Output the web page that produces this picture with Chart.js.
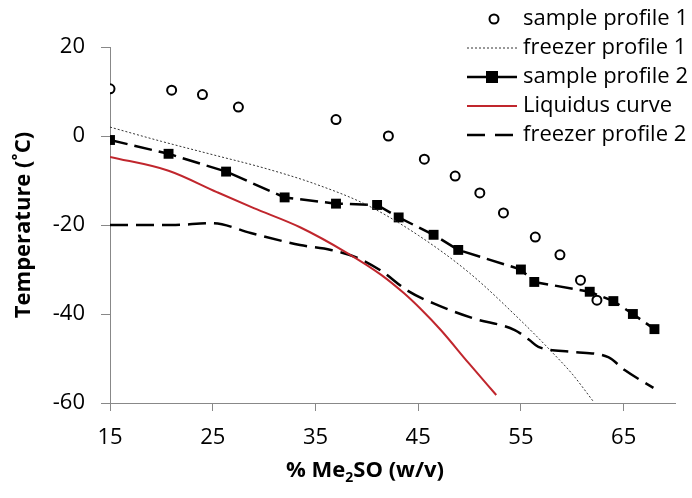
<!DOCTYPE html>
<html>
<head>
<meta charset="utf-8">
<script src="https://cdn.jsdelivr.net/npm/chart.js@4"></script>
<style>
  html, body { margin: 0; padding: 0; background: #fff; }
  #wrap { width: 692px; height: 498px; position: relative; }
</style>
</head>
<body>
<div id="wrap"><canvas id="chart"></canvas></div>
<script>
// values
const sample1X = [15, 21, 24, 27.5, 37, 42.1, 45.6, 48.6, 51, 53.3, 56.4, 58.8, 60.8, 62.4];
const sample1Y = [10.6, 10.3, 9.3, 6.5, 3.7, 0, -5.2, -9, -12.8, -17.3, -22.7, -26.7, -32.4, -36.9];

const freezer1X = [15, 20, 25, 30, 35, 40, 45, 50, 55, 58, 60, 62.1];
const freezer1Y = [2, -1.2, -4.2, -7.2, -10.8, -15.5, -22.3, -30.8, -41.5, -48.5, -53.5, -59.8];

const sample2X = [15, 20.7, 26.3, 32, 37, 41, 43.1, 46.5, 48.9, 55, 56.3, 61.7, 64, 65.9, 68];
const sample2Y = [-0.9, -4, -8, -13.8, -15.2, -15.5, -18.3, -22.2, -25.6, -30, -32.8, -35, -37.1, -40, -43.4];

const liquidusX = [15, 20.7, 25.4, 29, 33.5, 38.1, 41.4, 43.6, 45.3, 47.2, 49.9, 52.6];
const liquidusY = [-4.7, -7.8, -12.6, -16.2, -20.5, -26.3, -31.2, -35.3, -39, -43.6, -51, -58.2];

const freezer2X = [15, 21, 25, 28.7, 33.5, 36.5, 39.1, 41.4, 44, 46.9, 50.4, 54.4, 55.8, 56.7, 60, 63.5, 65.1, 67.9];
const freezer2Y = [-20, -20, -19.6, -21.8, -24.5, -25.6, -27.4, -30.3, -34.8, -38, -41, -43.6, -45.8, -47.4, -48.5, -49.7, -52.6, -56.6];

const xTicks = [15, 25, 35, 45, 55, 65];
const yTicks = [-60, -40, -20, 0, 20];

const FONT = '"Open Sans", sans-serif';

function pts(xs, ys) {
  return xs.map((x, i) => ({ x, y: ys[i] }));
}

// legend drawn inside the plot, top right
const insideLegend = {
  id: 'insideLegend',
  afterDraw(chart) {
    const ctx = chart.ctx;
    const rowTop = 19, rowGap = 29;
    const x0 = 467, x1 = 517, textX = 523;
    ctx.save();
    ctx.font = '22px ' + FONT;
    ctx.textBaseline = 'middle';
    ctx.fillStyle = '#000';
    chart.data.datasets.forEach((ds, i) => {
      const y = rowTop + i * rowGap;
      if (ds.showLine) {
        ctx.strokeStyle = ds.borderColor;
        ctx.lineWidth = ds.borderWidth;
        ctx.setLineDash(ds.legendDash || ds.borderDash || []);
        ctx.beginPath();
        ctx.moveTo(x0, y);
        ctx.lineTo(x1, y);
        ctx.stroke();
        ctx.setLineDash([]);
      }
      if (ds.pointStyle === 'circle' && ds.pointRadius > 0) {
        ctx.beginPath();
        ctx.arc(494, y, ds.pointRadius, 0, Math.PI * 2);
        ctx.fillStyle = '#fff';
        ctx.fill();
        ctx.lineWidth = ds.pointBorderWidth;
        ctx.strokeStyle = '#000';
        ctx.stroke();
      } else if (ds.pointStyle === 'rect' && ds.pointRadius > 0) {
        ctx.fillStyle = '#000';
        ctx.fillRect(492 - 6, y - 6, 12, 12);
      }
      ctx.fillStyle = '#000';
      ctx.fillText(ds.label, textX, y);
    });
    ctx.restore();
  }
};

// axis titles drawn by hand (subscript 2 in the x title)
const axisTitles = {
  id: 'axisTitles',
  afterDraw(chart) {
    const ctx = chart.ctx;
    ctx.save();
    ctx.fillStyle = '#000';
    ctx.textBaseline = 'alphabetic';
    // x title
    const big = 'bold 22px ' + FONT, small = 'bold 14px ' + FONT;
    const parts = [['% Me', big, 0], ['2', small, 5], ['SO (w/v)', big, 0]];
    let w = 0;
    parts.forEach(p => { ctx.font = p[1]; w += ctx.measureText(p[0]).width; });
    let x = 365 - w / 2;
    const base = 477;
    parts.forEach(p => {
      ctx.font = p[1];
      ctx.fillText(p[0], x, base + p[2]);
      x += ctx.measureText(p[0]).width;
    });
    // y title
    ctx.translate(24, 225);
    ctx.rotate(-Math.PI / 2);
    ctx.font = big;
    ctx.textAlign = 'center';
    ctx.textBaseline = 'middle';
    ctx.fillText('Temperature (˚C)', 0, 0);
    ctx.restore();
  }
};

new Chart(document.getElementById('chart'), {
  type: 'scatter',
  data: {
    datasets: [
      {
        label: 'sample profile 1',
        data: pts(sample1X, sample1Y),
        showLine: false,
        pointStyle: 'circle',
        pointRadius: 4.5,
        pointBorderWidth: 2,
        pointBackgroundColor: '#fff',
        pointBorderColor: '#000'
      },
      {
        label: 'freezer profile 1',
        data: pts(freezer1X, freezer1Y),
        showLine: true,
        borderColor: '#333',
        borderWidth: 1,
        borderDash: [2, 2],
        cubicInterpolationMode: 'monotone',
        pointRadius: 0
      },
      {
        label: 'sample profile 2',
        data: pts(sample2X, sample2Y),
        showLine: true,
        borderColor: '#000',
        borderWidth: 2.5,
        borderDash: [18, 7],
        legendDash: [],
        pointStyle: 'rect',
        pointRadius: 7,
        pointBackgroundColor: '#000',
        pointBorderColor: '#000',
        pointBorderWidth: 0
      },
      {
        label: 'Liquidus curve',
        data: pts(liquidusX, liquidusY),
        showLine: true,
        borderColor: '#c0262d',
        borderWidth: 2,
        cubicInterpolationMode: 'monotone',
        pointRadius: 0
      },
      {
        label: 'freezer profile 2',
        data: pts(freezer2X, freezer2Y),
        showLine: true,
        borderColor: '#000',
        borderWidth: 2.5,
        borderDash: [18, 8],
        legendDash: [18, 10],
        cubicInterpolationMode: 'monotone',
        pointRadius: 0
      }
    ]
  },
  options: {
    responsive: true,
    maintainAspectRatio: false,
    animation: false,
    layout: { padding: { top: 47, right: 17, left: 0, bottom: 0 } },
    plugins: {
      legend: { display: false },
      tooltip: { enabled: false }
    },
    scales: {
      x: {
        type: 'linear',
        min: 15,
        max: 70,
        afterBuildTicks: s => { s.ticks = xTicks.map(v => ({ value: v })); },
        afterFit: s => { s.height = 95; },
        grid: { drawOnChartArea: false, tickLength: 8, color: '#888' },
        border: { color: '#888', width: 1 },
        ticks: { font: { family: FONT, size: 22 }, color: '#000', padding: 14, maxRotation: 0 }
      },
      y: {
        min: -60,
        max: 20,
        afterBuildTicks: s => { s.ticks = yTicks.map(v => ({ value: v })); },
        afterFit: s => { s.width = 110; },
        grid: { drawOnChartArea: false, tickLength: 9, color: '#888' },
        border: { color: '#888', width: 1 },
        ticks: { font: { family: FONT, size: 22 }, color: '#000', padding: 16 }
      }
    }
  },
  plugins: [insideLegend, axisTitles]
});
</script>
</body>
</html>
